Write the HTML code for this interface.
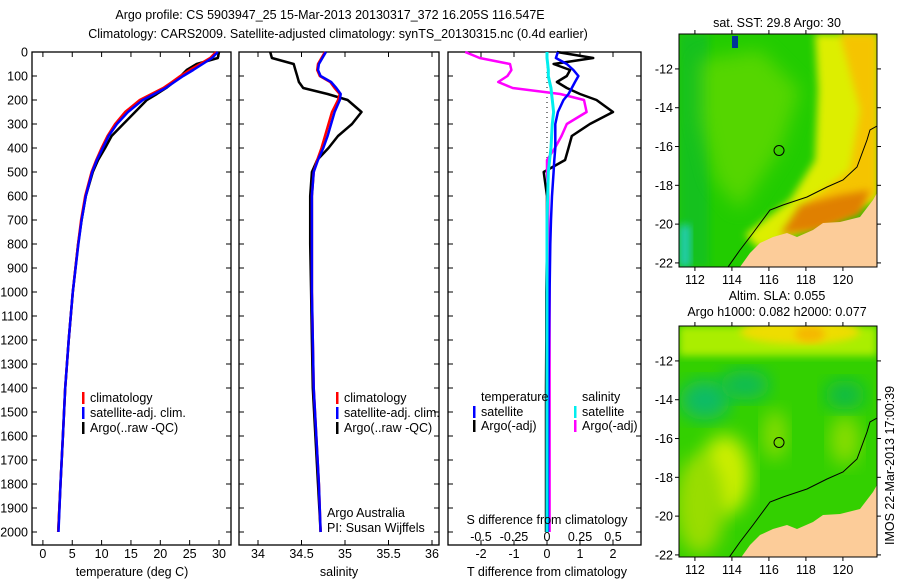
<!DOCTYPE html>
<html><head><meta charset="utf-8"><style>
body{margin:0;background:#fff;}
svg{display:block;font-family:"Liberation Sans",sans-serif;}
text{font-size:12.5px;fill:#000;}
</style></head><body>
<svg id="fig" width="900" height="580" viewBox="0 0 900 580" xmlns="http://www.w3.org/2000/svg">
<defs>
<filter id="blur" x="-20%" y="-20%" width="140%" height="140%"><feGaussianBlur stdDeviation="9"/></filter>
<filter id="blur2" x="-20%" y="-20%" width="140%" height="140%"><feGaussianBlur stdDeviation="4"/></filter>
<clipPath id="clipTop"><rect x="679" y="34" width="198" height="233"/></clipPath>
<clipPath id="clipBot"><rect x="679" y="326" width="198" height="231"/></clipPath>
</defs>
<text x="330" y="19" text-anchor="middle">Argo profile: CS 5903947_25 15-Mar-2013 20130317_372 16.205S 116.547E</text>
<text x="338" y="38" text-anchor="middle">Climatology: CARS2009. Satellite-adjusted climatology: synTS_20130315.nc (0.4d earlier)</text>
<g id="charts"></g>
<g id="maps"></g>
<text transform="translate(894,545) rotate(-90)">IMOS 22-Mar-2013 17:00:39</text>
</svg>
<script>
const depths=[0,25,50,75,100,125,150,175,200,250,300,350,400,450,500,600,700,800,1000,1200,1400,1600,1800,2000];
const tempClim=[29.5,28.5,26.8,25,23.4,22,20.5,18.5,16.5,14,12.3,11,10,9.1,8.3,7.2,6.5,6.0,5.1,4.4,3.8,3.4,3.0,2.6];
const tempSat=[29.8,28.8,27.2,25.6,23.9,22.4,20.9,19,17,14.5,12.6,11.2,10.2,9.2,8.4,7.3,6.6,6.05,5.1,4.4,3.8,3.4,3.0,2.65];
const tempArgo=[30,29.8,26.2,24.5,23.5,22.3,21,19.4,17.7,15.7,13.7,11.7,10.6,9.4,8.5,7.3,6.6,6.0,5.1,4.4,3.8,3.4,3.0,2.6];
const salClim=[34.77,34.73,34.69,34.68,34.71,34.83,34.88,34.94,34.92,34.85,34.81,34.77,34.73,34.68,34.64,34.62,34.62,34.62,34.62,34.63,34.64,34.67,34.70,34.72];
const salSat=[34.78,34.74,34.70,34.69,34.72,34.84,34.90,34.95,34.94,34.88,34.84,34.80,34.75,34.69,34.64,34.62,34.62,34.62,34.62,34.63,34.64,34.67,34.70,34.72];
const salArgo=[34.14,34.16,34.41,34.43,34.45,34.47,34.52,34.80,35.03,35.19,35.08,34.92,34.81,34.68,34.62,34.60,34.60,34.60,34.61,34.62,34.63,34.66,34.69,34.72];
const dTSat=[0.33,0.27,0.6,0.8,0.95,0.85,0.75,0.65,0.5,0.33,0.25,0.25,0.25,0.22,0.2,0.15,0.12,0.1,0.08,0.06,0.05,0.04,0.03,0.03];
const dTArgo=[0.3,1.4,0.2,0.7,0.6,0.3,0.6,1.0,1.5,2.0,1.3,0.75,0.65,0.55,-0.1,0,0,0,-0.02,-0.02,-0.03,-0.03,-0.03,-0.03];
const dSArgo=[-0.62,-0.51,-0.28,-0.27,-0.3,-0.37,-0.26,0.1,0.28,0.3,0.15,0.11,0.06,0,0,0.01,0.01,0.01,0.02,0.02,0.02,0.02,0.02,0.02];
const dSSat=[0,0,0.005,0.01,0.01,0.02,0.03,0.035,0.04,0.05,0.04,0.035,0.03,0.02,0.01,0.005,0,0,0,0,0,0,0,0];
const depthTicks=[0,100,200,300,400,500,600,700,800,900,1000,1100,1200,1300,1400,1500,1600,1700,1800,1900,2000];
const tempTicks=[0,5,10,15,20,25,30];
const salTicks=[34,34.5,35,35.5,36];
const dTTicks=[-2,-1,0,1,2];
const dSTicks=[-0.5,-0.25,0,0.25,0.5];
const dSTickLabels=['-0.5','-0.25','0','0.25','0.5'];

const NS='http://www.w3.org/2000/svg';
const charts=document.getElementById('charts');
function mk(tag,attrs,parent){const e=document.createElementNS(NS,tag);for(const k in attrs)e.setAttribute(k,attrs[k]);(parent||charts).appendChild(e);return e;}
const yD=d=>52+d*0.24;
const TOP=52,BOT=545;
const xT=v=>42.9+v*5.87;
const xS=v=>258+(v-34)*87;
const xDT=v=>547+v*33;
const xDS=v=>547+v*132;

function panel(name,L,R){
  const r=mk('rect',{x:L,y:TOP,width:R-L,height:BOT-TOP,fill:'#fff',stroke:'#000','stroke-width':1.3});
  
  
  depthTicks.forEach(d=>{
    mk('line',{x1:L,x2:L+5,y1:yD(d),y2:yD(d),stroke:'#000'});
    mk('line',{x1:R,x2:R-5,y1:yD(d),y2:yD(d),stroke:'#000'});
  });
}
function xticks(name,ticks,fx,labels,ly){
  ticks.forEach((t,i)=>{
    mk('line',{x1:fx(t),x2:fx(t),y1:BOT,y2:BOT-5,stroke:'#000'});
    mk('line',{x1:fx(t),x2:fx(t),y1:TOP,y2:TOP+5,stroke:'#000'});
    const tx=mk('text',{x:fx(t),y:ly,'text-anchor':'middle'});
    tx.textContent=labels?labels[i]:String(t);
    
    
  });
}
function series(name,vals,fx,color,w){
  const pts=vals.map((v,i)=>fx(v).toFixed(1)+','+yD(depths[i]).toFixed(1)).join(' ');
  const p=mk('polyline',{points:pts,fill:'none',stroke:color,'stroke-width':w||2.5,'stroke-linejoin':'round'});
  
  
}
function label(txt,x,y,name,anchor){
  const t=mk('text',{x:x,y:y,'text-anchor':anchor||'start'});
  t.textContent=txt;
  
  
}
function legendEntry(color,txt,x,y,name){
  const b=mk('rect',{x:x,y:y-10,width:2.5,height:12,fill:color});
  
  
  label(txt,x+8,y,name);
}

panel('temperature-panel',32,231);
depthTicks.forEach(d=>{
  const t=mk('text',{x:28,y:yD(d)+4.5,'text-anchor':'end'});
  t.textContent=String(d);
  
  
});
xticks('temperature',tempTicks,xT,null,558);
series('temperature-argo-line',tempArgo,xT,'#000');
series('temperature-climatology-line',tempClim,xT,'#f00');
series('temperature-satellite-line',tempSat,xT,'#00f');
label('temperature (deg C)',132,576,'temperature-axis-title','middle');
legendEntry('#f00','climatology',82,402,'legend-climatology');
legendEntry('#00f','satellite-adj. clim.',82,417,'legend-satellite-adj');
legendEntry('#000','Argo(..raw -QC)',82,432,'legend-argo-raw');

panel('salinity-panel',239,439);
xticks('salinity',salTicks,xS,['34','34.5','35','35.5','36'],558);
series('salinity-argo-line',salArgo,xS,'#000');
series('salinity-climatology-line',salClim,xS,'#f00');
series('salinity-satellite-line',salSat,xS,'#00f');
label('salinity',339,576,'salinity-axis-title','middle');
legendEntry('#f00','climatology',336,402,'legend-sal-climatology');
legendEntry('#00f','satellite-adj. clim.',336,417,'legend-sal-satellite-adj');
legendEntry('#000','Argo(..raw -QC)',336,432,'legend-sal-argo-raw');
label('Argo Australia',327,517,'credit-argo-australia');
label('PI: Susan Wijffels',327,532,'credit-pi');

panel('difference-panel',448,641);
xticks('t-difference',dTTicks,xDT,null,558);
dSTicks.forEach((t,i)=>{
  const tx=mk('text',{x:xDS(t),y:541,'text-anchor':'middle'});
  tx.textContent=dSTickLabels[i];
  
  
});
mk('line',{x1:547,x2:547,y1:TOP,y2:200,stroke:'#000','stroke-dasharray':'1,4','stroke-width':1});
series('t-diff-argo-line',dTArgo,xDT,'#000');
series('s-diff-argo-line',dSArgo,xDS,'#f0f');
series('t-diff-satellite-line',dTSat,xDT,'#00f');
series('s-diff-satellite-line',dSSat,xDS,'#0ee',3);
label('T difference from climatology',547,576,'t-difference-axis-title','middle');
label('S difference from climatology',547,524,'s-difference-axis-title','middle');
label('temperature',481,401,'legend-temperature-header');
label('salinity',582,401,'legend-salinity-header');
legendEntry('#00f','satellite',473,416,'legend-t-satellite');
legendEntry('#000','Argo(-adj)',473,430,'legend-t-argo');
legendEntry('#0ee','satellite',574,416,'legend-s-satellite');
legendEntry('#f0f','Argo(-adj)',574,430,'legend-s-argo');

const maps=document.getElementById('maps');
const lonTicks=[112,114,116,118,120];
const latTicks=[-12,-14,-16,-18,-20,-22];
const argoLon=116.547, argoLat=-16.205;
function drawMap(name,top,bottom,isSST){
  const L=679,R=877;
  const mx=lon=>L+(lon-111.14)*18.5;
  const my=lat=>top+(-10.2-lat)*19.4;
  const g=mk('g',{'clip-path':'url(#'+(isSST?'clipTop':'clipBot')+')'},maps);
  
  
  const off=top-34;
  if(isSST){
    mk('rect',{x:L,y:top,width:198,height:233,fill:'#22cc00'},g);
    mk('rect',{x:L,y:top,width:30,height:233,fill:'#11bb33',opacity:0.6,filter:'url(#blur2)'},g);
    mk('polygon',{points:'700,60 760,50 800,90 780,150 740,210 715,180 700,120',fill:'#77dd00',opacity:0.6,filter:'url(#blur)'},g);
    mk('polygon',{points:'815,34 877,34 877,200 760,250 745,235 790,200 815,160 818,90',fill:'#ddee00',filter:'url(#blur2)'},g);
    mk('polygon',{points:'840,34 877,34 877,195 840,215 800,230 810,200 850,170 860,110',fill:'#f5c400',filter:'url(#blur2)'},g);
    mk('polygon',{points:'780,235 800,205 840,195 870,190 860,215 820,230',fill:'#e08000',filter:'url(#blur2)'},g);
    mk('rect',{x:679,y:225,width:12,height:42,fill:'#22ccaa',filter:'url(#blur2)'},g);
    mk('rect',{x:732,y:36,width:6,height:12,fill:'#003399'},g);
  }else{
    mk('rect',{x:L,y:top,width:198,height:233,fill:'#33d000'},g);
    mk('rect',{x:L,y:top,width:198,height:30,fill:'#aaee00',filter:'url(#blur2)'},g);
    mk('ellipse',{cx:725,cy:475,rx:25,ry:40,fill:'#ccee00',filter:'url(#blur)'},g);
    mk('ellipse',{cx:800,cy:332,rx:60,ry:12,fill:'#eedd00',filter:'url(#blur2)'},g);
    mk('ellipse',{cx:810,cy:334,rx:15,ry:8,fill:'#f5b800',filter:'url(#blur2)'},g);
    mk('ellipse',{cx:700,cy:505,rx:25,ry:50,fill:'#99dd00',filter:'url(#blur)'},g);
    mk('ellipse',{cx:775,cy:435,rx:12,ry:25,fill:'#88dd00',filter:'url(#blur)'},g);
    mk('ellipse',{cx:845,cy:440,rx:15,ry:25,fill:'#88dd00',filter:'url(#blur)'},g);
    mk('ellipse',{cx:705,cy:400,rx:25,ry:20,fill:'#11bb66',filter:'url(#blur)'},g);
    mk('ellipse',{cx:745,cy:385,rx:25,ry:15,fill:'#11bb55',filter:'url(#blur)'},g);
    mk('ellipse',{cx:845,cy:395,rx:20,ry:15,fill:'#11bb44',filter:'url(#blur)'},g);
  }
  const land=mk('polygon',{points:[[740,267],[750,253],[760,243],[773,237],[787,233],[797,237],[813,230],[823,223],[840,222],[860,217],[873,200],[877,193],[877,267]].map(p=>p[0]+','+(p[1]+off)).join(' '),fill:'#fccc99'},g);
  
  
  mk('polyline',{points:[[728,267],[740,250],[753,233],[770,210],[783,205],[807,197],[827,187],[843,180],[857,167],[867,140],[870,130],[877,126]].map(p=>p[0]+','+(p[1]+off)).join(' '),fill:'none',stroke:'#000','stroke-width':1},g);
  const fr=mk('rect',{x:L,y:top,width:R-L,height:bottom-top,fill:'none',stroke:'#000','stroke-width':1},maps);
  
  
  lonTicks.forEach(lon=>{
    mk('line',{x1:mx(lon),x2:mx(lon),y1:bottom,y2:bottom+4,stroke:'#000'},maps);
    mk('line',{x1:mx(lon),x2:mx(lon),y1:top,y2:top-4,stroke:'#000'},maps);
    const t=mk('text',{x:mx(lon),y:bottom+17,'text-anchor':'middle'},maps);
    t.textContent=String(lon);
    
    
  });
  latTicks.forEach(lat=>{
    mk('line',{x1:L,x2:L-4,y1:my(lat),y2:my(lat),stroke:'#000'},maps);
    mk('line',{x1:R,x2:R+4,y1:my(lat),y2:my(lat),stroke:'#000'},maps);
    const t=mk('text',{x:L-6,y:my(lat)+4.5,'text-anchor':'end'},maps);
    t.textContent=String(lat);
    
    
  });
  const c=mk('circle',{cx:mx(argoLon),cy:my(argoLat),r:5,fill:'none',stroke:'#000','stroke-width':1},maps);
  
  
}
drawMap('sst-map',34,267,true);
drawMap('sla-map',326,557,false);
label('sat. SST: 29.8 Argo: 30',777,27,'sst-map-title','middle');
label('Altim. SLA: 0.055',777,300,'sla-map-title','middle');
label('Argo h1000: 0.082 h2000: 0.077',777,316,'sla-map-subtitle','middle');
</script>
</body></html>
